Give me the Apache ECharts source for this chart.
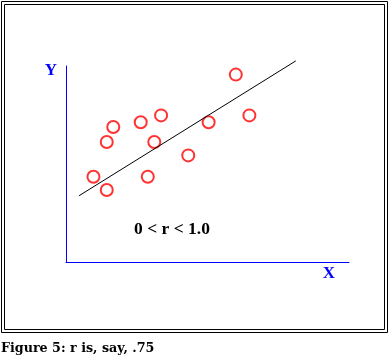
<!DOCTYPE html>
<html><head><meta charset="utf-8">
<script src="https://cdn.jsdelivr.net/npm/echarts@6/dist/echarts.min.js"></script>
<style>html,body{margin:0;padding:0;background:#fff}#c{width:390px;height:358px}</style>
</head><body><div id="c"></div>
<script>
const xValues = [0.97, 1.44, 1.44, 1.67, 2.64, 2.89, 3.12, 3.36, 4.32, 5.04, 6.0, 6.48];
const yValues = [4.35, 3.67, 6.12, 6.89, 7.13, 4.35, 6.12, 7.48, 5.44, 7.13, 9.56, 7.48];
const fitX = [0.46, 8.12];
const fitY = [3.38, 10.26];
const axisNames = ['X', 'Y'];
const annotation = '0 < r < 1.0';
const caption = 'Figure 5: r is, say, .75';

const chart = echarts.init(document.getElementById('c'), null, {renderer: 'canvas'});
const serif = '"Liberation Serif", "DejaVu Serif", serif';
const wide = '"DejaVu Serif", serif';
chart.setOption({
  animation: false,
  grid: {left: 66, top: 66, width: 283, height: 196},
  xAxis: {type: 'value', min: 0, max: 10, axisLine: {lineStyle: {color: '#0000ff', width: 1}},
    axisTick: {show: false}, axisLabel: {show: false}, splitLine: {show: false}},
  yAxis: {type: 'value', min: 0, max: 10, axisLine: {show: true, lineStyle: {color: '#0000ff', width: 1}},
    axisTick: {show: false}, axisLabel: {show: false}, splitLine: {show: false}},
  series: [
    {type: 'line', data: fitX.map((x, i) => [x, fitY[i]]), symbol: 'none', clip: false,
     lineStyle: {color: '#000', width: 1}},
    {type: 'scatter', data: xValues.map((x, i) => [x, yValues[i]]), symbol: 'circle', symbolSize: 12,
     itemStyle: {color: 'rgba(0,0,0,0)', borderColor: '#ff0000', borderWidth: 2}}
  ],
  graphic: [
    {type: 'rect', shape: {x: 1.5, y: 1.5, width: 386, height: 331}, style: {fill: null, stroke: '#000', lineWidth: 1}},
    {type: 'rect', shape: {x: 4.5, y: 4.5, width: 380, height: 325}, style: {fill: null, stroke: '#000', lineWidth: 1}},
    {type: 'text', x: 51, y: 71, style: {text: axisNames[1], font: 'bold 17px ' + serif, fill: '#0000ff', align: 'center', verticalAlign: 'middle'}},
    {type: 'text', x: 329, y: 274, style: {text: axisNames[0], font: 'bold 17px ' + serif, fill: '#0000ff', align: 'center', verticalAlign: 'middle'}},
    {type: 'text', x: 172, y: 229, style: {text: annotation, font: 'bold 17.5px ' + serif, fill: '#000', align: 'center', verticalAlign: 'middle'}},
    {type: 'text', x: 1, y: 349, style: {text: caption, font: 'bold 12.7px ' + wide, fill: '#000', align: 'left', verticalAlign: 'middle'}}
  ]
});
</script></body></html>
